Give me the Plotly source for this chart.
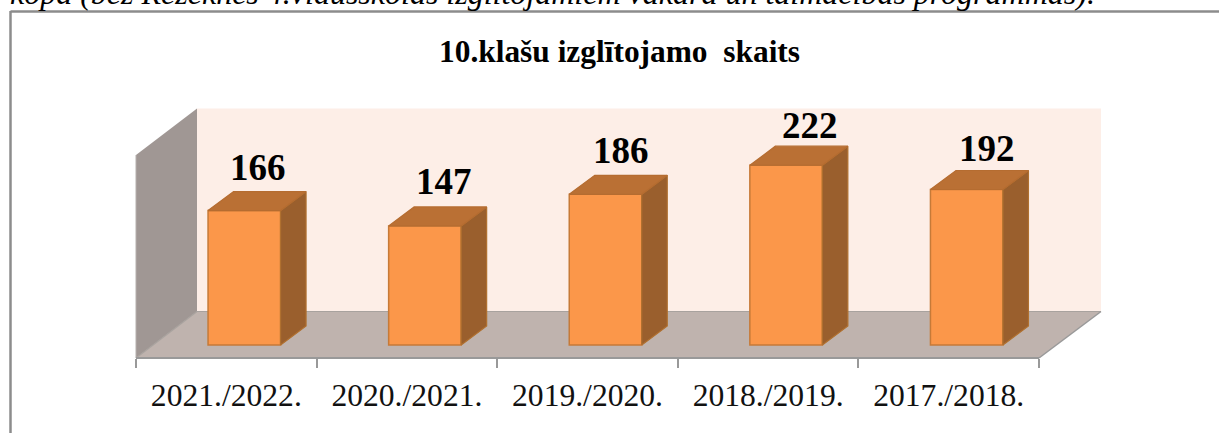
import plotly.graph_objects as go

# ---- data ----
categories = ["2021./2022.", "2020./2021.", "2019./2020.", "2018./2019.", "2017./2018."]
values = [166, 147, 186, 222, 192]
chart_title = "10.klašu izglītojamo  skaits"
clipped_sentence = "kopā (bez Rēzeknes 4.vidusskolas izglītojamiem vakara un tālmācības programmās)."

# ---- page geometry (pixels) ----
W, H = 1219, 433
CAT_PX = 180.6       # width of one category
X0_PX = 226.3        # pixel centre of the first category
Y0_PX = 345.0        # pixel of value 0 (front base of the bars)
PX_PER_UNIT = 0.81   # pixels per value unit
AXIS_PX = 358.0
# 3D depth of the bars, in pixels
BAR_DX, BAR_DY = 25.5, 19.0
BAR_SHIFT_PX = 18.0
BAR_W_PX = 72.5

def xdata(dpx):
    return dpx / CAT_PX

def ydata(dpx):
    return dpx / PX_PER_UNIT

def px(x):
    return x / W

def py(y):
    return 1 - y / H

idx = list(range(len(categories)))
shift = xdata(BAR_SHIFT_PX)
half = xdata(BAR_W_PX) / 2
dx, dy = xdata(BAR_DX), ydata(BAR_DY)

fig = go.Figure()

# front faces
fig.add_trace(go.Bar(
    x=idx, y=values, width=2 * half, offset=shift - half,
    marker=dict(color="#FB974A", line=dict(color="#C67A38", width=1.5)),
    hoverinfo="skip", showlegend=False,
))

# side and top faces, derived from the values
for i, v in zip(idx, values):
    l, r = i + shift - half, i + shift + half
    fig.add_trace(go.Scatter(
        x=[r, r + dx, r + dx, r, r], y=[0, dy, v + dy, v, 0],
        mode="lines", fill="toself", fillcolor="#9A5F2D",
        line=dict(color="#B0702F", width=1.2),
        hoverinfo="skip", showlegend=False,
    ))
    fig.add_trace(go.Scatter(
        x=[l, l + dx, r + dx, r, l], y=[v, v + dy, v + dy, v, v],
        mode="lines", fill="toself", fillcolor="#BA7034",
        line=dict(color="#B56C30", width=1.2),
        hoverinfo="skip", showlegend=False,
    ))

def poly(points, fill, line=None, width=0):
    path = "M " + " L ".join(f"{px(a):.5f},{py(b):.5f}" for a, b in points) + " Z"
    return dict(type="path", path=path, xref="paper", yref="paper", layer="below",
                fillcolor=fill, line=dict(color=line or fill, width=width))

def seg(x1, y1, x2, y2, color, width):
    return dict(type="line", xref="paper", yref="paper", layer="below",
                x0=px(x1), y0=py(y1), x1=px(x2), y1=py(y2),
                line=dict(color=color, width=width))

shapes = [
    poly([(197, 108.5), (1101, 108.5), (1101, 311.5), (197, 311.5)], "#FDEEE7"),
    poly([(136, 155), (197, 108.5), (197, 311.5), (136, 358)], "#A09794"),
    poly([(197, 311.5), (1101, 311.5), (1039, 358), (136, 358)], "#BFB3AE"),
    seg(197, 311.5, 1101, 311.5, "#A8A29E", 1),
    seg(136, 358, 197, 311.5, "#A8A29E", 1.2),
    seg(1039, 358, 1101, 311.5, "#999999", 1.5),
    seg(136, 155, 136, 358, "#B5B0AD", 1),
    # chart frame
    seg(10.5, 11.5, 1219, 11.5, "#8C8C8C", 2.5),
    seg(10.5, 11, 10.5, 433, "#8C8C8C", 2.5),
]

# value labels: manual nudges as in the source chart
label_nudge_x = [14, 19, 15, 24, 20]
label_nudge_y = [21, 22, 21, 17, 18]
annotations = [
    dict(x=i, y=v, text=f"<b>{v}</b>", xref="x", yref="y", showarrow=False,
         xanchor="center", yanchor="bottom",
         xshift=BAR_SHIFT_PX + nx, yshift=ny,
         font=dict(family="Liberation Serif", size=37, color="#000000"))
    for i, v, nx, ny in zip(idx, values, label_nudge_x, label_nudge_y)
]
annotations.append(dict(
    x=px(619), y=py(52), xref="paper", yref="paper", showarrow=False,
    xanchor="center", yanchor="middle", text=f"<b>{chart_title}</b>",
    font=dict(family="Liberation Serif", size=31.4, color="#000000"),
))
annotations.append(dict(
    x=px(8), y=py(-7), xref="paper", yref="paper", showarrow=False,
    xanchor="left", yanchor="middle", text=f"<i>{clipped_sentence}</i>",
    font=dict(family="Liberation Serif", size=32, color="#000000"),
))

fig.update_layout(
    width=W, height=H,
    margin=dict(l=0, r=0, t=0, b=0),
    paper_bgcolor="white", plot_bgcolor="rgba(0,0,0,0)",
    autosize=False,
    shapes=shapes,
    annotations=annotations,
    showlegend=False,
    xaxis=dict(
        range=[(0 - X0_PX) / CAT_PX, (W - X0_PX) / CAT_PX],
        anchor="free", position=(H - AXIS_PX) / H,
        tickmode="array", tickvals=idx, ticktext=categories,
        ticks="outside", ticklen=0, ticklabelstandoff=9,
        tickfont=dict(family="Liberation Serif", size=31.6, color="#111111"),
        showline=False, showgrid=False, zeroline=False,
        minor=dict(tickmode="array", tickvals=[i - 0.5 for i in idx] + [idx[-1] + 0.5],
                   ticks="outside", ticklen=9, tickcolor="#999999", tickwidth=2, showgrid=False),
    ),
    yaxis=dict(
        range=[(Y0_PX - H) / PX_PER_UNIT, Y0_PX / PX_PER_UNIT],
        visible=False,
    ),
)
# axis line across the categories only
fig.add_shape(seg(136, 358, 1039, 358, "#999999", 2.2))

fig.write_html(
    "out.html",
    config={"displayModeBar": False},
    post_script="document.body.style.margin='0';document.body.style.overflow='hidden';",
)
